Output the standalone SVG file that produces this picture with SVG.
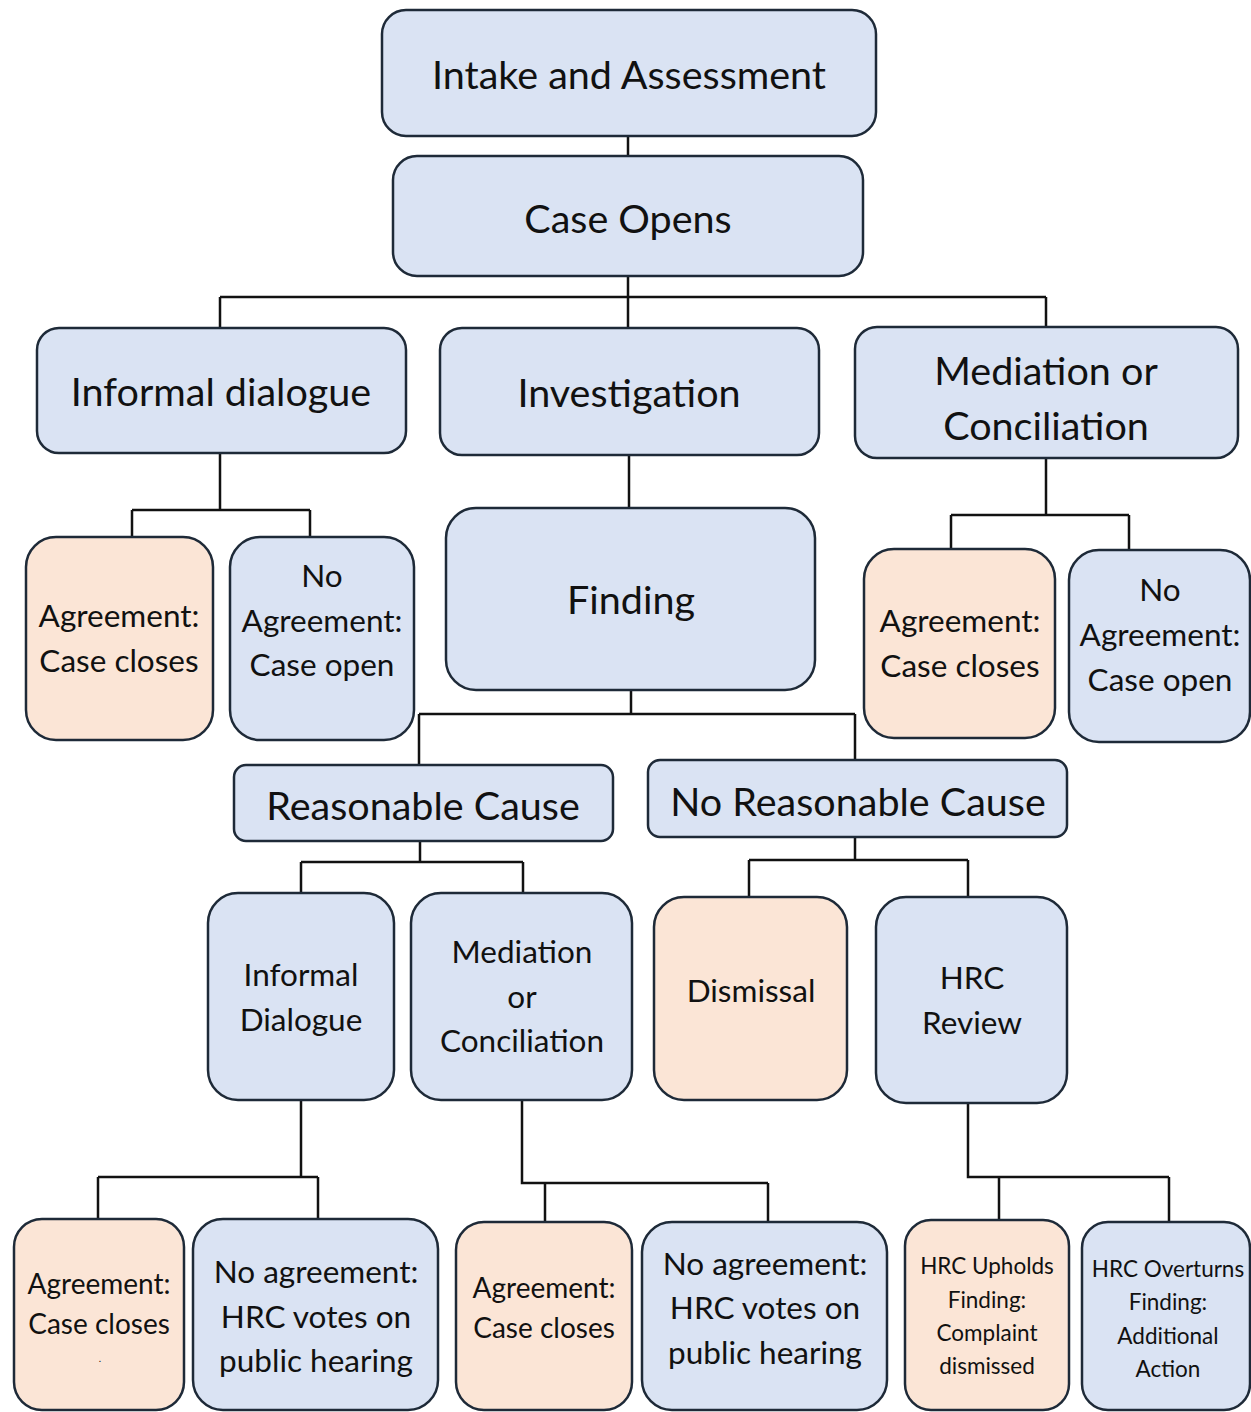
<svg xmlns="http://www.w3.org/2000/svg" width="1251" height="1412" viewBox="0 0 1251 1412">
<style>
.b{fill:#dae3f3;stroke:#1e2a38;stroke-width:2.5}
.p{fill:#fbe5d6;stroke:#1e2a38;stroke-width:2.5}
text{font-family:Lato,"Open Sans",sans-serif;fill:#111;text-anchor:middle;dominant-baseline:central}
.l{font-size:39.5px}
.m{font-size:31.5px}
.s{font-size:28px}
.t{font-size:22.5px}
#connectors path{fill:none;stroke:#111;stroke-width:2.5}
</style>
<rect width="1251" height="1412" fill="#fff"/>
<g id="connectors">
<path d="M628 136V156"/>
<path d="M628 276V297M220 297H1046M220 297V328M628 297V328M1046 297V327"/>
<path d="M220 453V510M132 510H310M132 510V537M310 510V537"/>
<path d="M629 455V508"/>
<path d="M1046 458V515M951 515H1129M951 515V549M1129 515V550"/>
<path d="M631 690V714M419 714H855M419 714V765M855 714V760"/>
<path d="M420 841V862M301 862H523M301 862V893M523 862V893"/>
<path d="M855 837V860M749 860H968M749 860V897M968 860V897"/>
<path d="M301 1100V1177M98 1177H318M98 1177V1219M318 1177V1219"/>
<path d="M522 1100V1183H768M545 1183V1222M768 1183V1222"/>
<path d="M968 1103V1177H1169M999 1177V1220M1169 1177V1222"/>
</g>
<g id="intake"><rect class="b" x="382" y="10" width="494" height="126" rx="24"/><text class="l" x="629" y="73">Intake and Assessment</text></g>
<g id="case-opens"><rect class="b" x="393" y="156" width="470" height="120" rx="24"/><text class="l" x="628" y="217">Case Opens</text></g>
<g id="informal-dialogue"><rect class="b" x="37" y="328" width="369" height="125" rx="22"/><text class="l" x="221" y="390">Informal dialogue</text></g>
<g id="investigation"><rect class="b" x="440" y="328" width="379" height="127" rx="22"/><text class="l" x="629" y="391">Investigation</text></g>
<g id="mediation-top"><rect class="b" x="855" y="327" width="383" height="131" rx="22"/><text class="l" x="1046" y="369">Mediation or</text><text class="l" x="1046" y="424">Conciliation</text></g>
<g id="agree-left"><rect class="p" x="26" y="537" width="187" height="203" rx="30"/><text class="m" x="119" y="615">Agreement:</text><text class="m" x="119" y="660">Case closes</text></g>
<g id="noagree-left"><rect class="b" x="230" y="537" width="184" height="203" rx="30"/><text class="m" x="322" y="575">No</text><text class="m" x="322" y="620">Agreement:</text><text class="m" x="322" y="664">Case open</text></g>
<g id="finding"><rect class="b" x="446" y="508" width="369" height="182" rx="30"/><text class="l" x="631" y="598">Finding</text></g>
<g id="agree-right"><rect class="p" x="864" y="549" width="191" height="189" rx="30"/><text class="m" x="960" y="620">Agreement:</text><text class="m" x="960" y="665">Case closes</text></g>
<g id="noagree-right"><rect class="b" x="1069" y="550" width="181" height="192" rx="30"/><text class="m" x="1160" y="589">No</text><text class="m" x="1160" y="634">Agreement:</text><text class="m" x="1160" y="679">Case open</text></g>
<g id="reasonable-cause"><rect class="b" x="234" y="765" width="379" height="76" rx="12"/><text class="l" x="423" y="804">Reasonable Cause</text></g>
<g id="no-reasonable-cause"><rect class="b" x="648" y="760" width="419" height="77" rx="12"/><text class="l" x="858" y="800">No Reasonable Cause</text></g>
<g id="informal-dialogue-2"><rect class="b" x="208" y="893" width="186" height="207" rx="30"/><text class="m" x="301" y="974">Informal</text><text class="m" x="301" y="1019">Dialogue</text></g>
<g id="mediation-2"><rect class="b" x="411" y="893" width="221" height="207" rx="30"/><text class="m" x="522" y="951">Mediation</text><text class="m" x="522" y="996">or</text><text class="m" x="522" y="1040">Conciliation</text></g>
<g id="dismissal"><rect class="p" x="654" y="897" width="193" height="203" rx="30"/><text class="m" x="751" y="990">Dismissal</text></g>
<g id="hrc-review"><rect class="b" x="876" y="897" width="191" height="206" rx="30"/><text class="m" x="972" y="977">HRC</text><text class="m" x="972" y="1022">Review</text></g>
<g id="agree-bottom-1"><rect class="p" x="14" y="1219" width="170" height="191" rx="28"/><text class="s" x="99" y="1283">Agreement:</text><text class="s" x="99" y="1323">Case closes</text><text x="100" y="1358" style="font-size:10px">.</text></g>
<g id="noagree-bottom-1"><rect class="b" x="193" y="1219" width="245" height="191" rx="30"/><text class="m" x="316" y="1271">No agreement:</text><text class="m" x="316" y="1316">HRC votes on</text><text class="m" x="316" y="1360">public hearing</text></g>
<g id="agree-bottom-2"><rect class="p" x="456" y="1222" width="176" height="188" rx="28"/><text class="s" x="544" y="1287">Agreement:</text><text class="s" x="544" y="1327">Case closes</text></g>
<g id="noagree-bottom-2"><rect class="b" x="642" y="1222" width="245" height="188" rx="30"/><text class="m" x="765" y="1263">No agreement:</text><text class="m" x="765" y="1307">HRC votes on</text><text class="m" x="765" y="1352">public hearing</text></g>
<g id="hrc-upholds"><rect class="p" x="905" y="1220" width="164" height="190" rx="26"/><text class="t" x="987" y="1265">HRC Upholds</text><text class="t" x="987" y="1299">Finding:</text><text class="t" x="987" y="1332">Complaint</text><text class="t" x="987" y="1365">dismissed</text></g>
<g id="hrc-overturns"><rect class="b" x="1082" y="1222" width="168" height="188" rx="26"/><text class="t" x="1168" y="1268">HRC Overturns</text><text class="t" x="1168" y="1301">Finding:</text><text class="t" x="1168" y="1335">Additional</text><text class="t" x="1168" y="1368">Action</text></g>
</svg>
